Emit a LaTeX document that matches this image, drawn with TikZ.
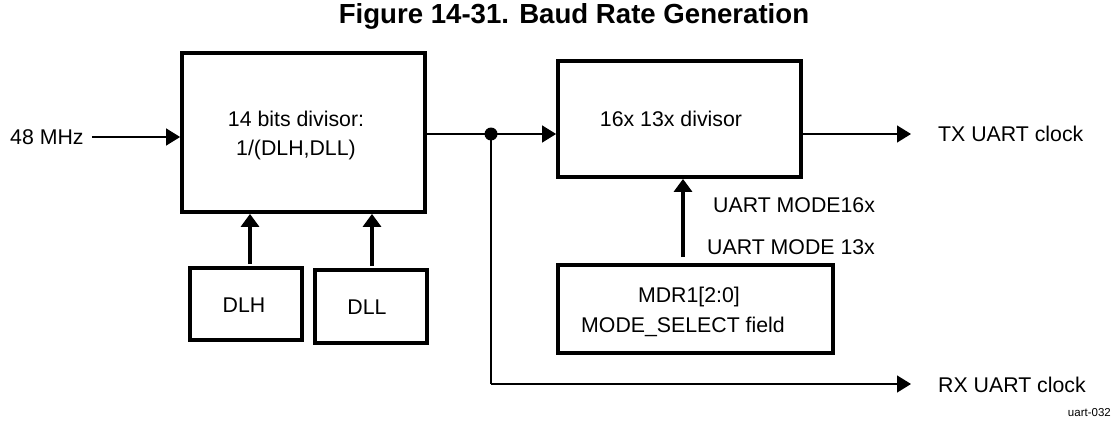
\documentclass[tikz,border=0pt]{standalone}
\usepackage{fontspec}
\setmainfont{Liberation Sans}
\usetikzlibrary{arrows.meta}
\begin{document}
\begin{tikzpicture}[x=1pt,y=-1pt,
  blk/.style={draw, line width=3.8pt, rectangle, inner sep=0pt},
  lbl/.style={inner sep=0pt, font=\fontsize{21.3}{25}\selectfont},
  thinline/.style={line width=1.3pt},
  thinarrow/.style={line width=1.3pt, -{Triangle[length=14pt,width=17pt]}},
  thickarrow/.style={line width=4pt, -{Triangle[length=13pt,width=18pt]}}]
\useasboundingbox (0,0) rectangle (1114,428);
% title
\node[inner sep=0pt, font=\fontsize{27.6}{30}\bfseries\selectfont] (title) at (574,16) {Figure 14-31. Baud Rate Generation};
% boxes
\node[blk, minimum width=243pt, minimum height=159pt] (box1) at (303.5,132.5) {};
\node[blk, minimum width=243pt, minimum height=116pt] (box2) at (679.5,119) {};
\node[blk, minimum width=112pt, minimum height=72pt] (dlh) at (246,304) {};
\node[blk, minimum width=112pt, minimum height=73pt] (dll) at (371,306.5) {};
\node[blk, minimum width=275pt, minimum height=88pt] (mdr) at (695.5,309) {};
% box texts
\node[lbl] (t1a) at (296,119) {14 bits divisor:};
\node[lbl] (t1b) at (296,150) {1/(DLH,DLL)};
\node[lbl] (t2) at (671,119) {16x 13x divisor};
\node[lbl] (tdlh) at (244,305) {DLH};
\node[lbl] (tdll) at (367,307) {DLL};
\node[lbl] (tmdra) at (689,297) {MDR1[2:0]};
\node[lbl] (tmdrb) at (683,327) {MODE\_SELECT field};
% outside labels
\node[lbl, anchor=west] (lab48) at (10,137) {48 MHz};
\node[lbl, anchor=west] (labtx) at (938,134) {TX UART clock};
\node[lbl, anchor=west] (labrx) at (938,385) {RX UART clock};
\node[lbl, anchor=west] (m16) at (713,205) {UART MODE16x};
\node[lbl, anchor=west] (m13) at (707,247) {UART MODE 13x};
\node[inner sep=0pt, anchor=east, font=\fontsize{11.5}{13}\selectfont] (tag) at (1111,413) {uart-032};
% junction and ends
\coordinate (dot) at (491,134);
\coordinate (txend) at (911,134);
\coordinate (rxend) at (911,384);
% connectors
\draw[thinarrow, shorten <=8pt] (lab48.east) -- (box1.west |- lab48.east);
\draw[thinline] (box1.east |- dot) -- (dot);
\draw[thinarrow] (dot) -- (box2.west |- dot);
\draw[thinline] (dot) -- (dot |- rxend);
\draw[thinarrow] (dot |- rxend) -- (rxend);
\draw[thinarrow] (box2.east |- txend) -- (txend);
\fill (dot) circle (6.5pt);
\draw[thickarrow, shorten <=2pt] ([xshift=4pt]dlh.north) -- ([xshift=4pt]dlh.north |- box1.south);
\draw[thickarrow, shorten <=2pt] ([xshift=1pt]dll.north) -- ([xshift=1pt]dll.north |- box1.south);
\draw[thickarrow, shorten <=6pt] ([xshift=-12.5pt]mdr.north) -- ([xshift=-12.5pt]mdr.north |- box2.south);
\end{tikzpicture}
\end{document}
